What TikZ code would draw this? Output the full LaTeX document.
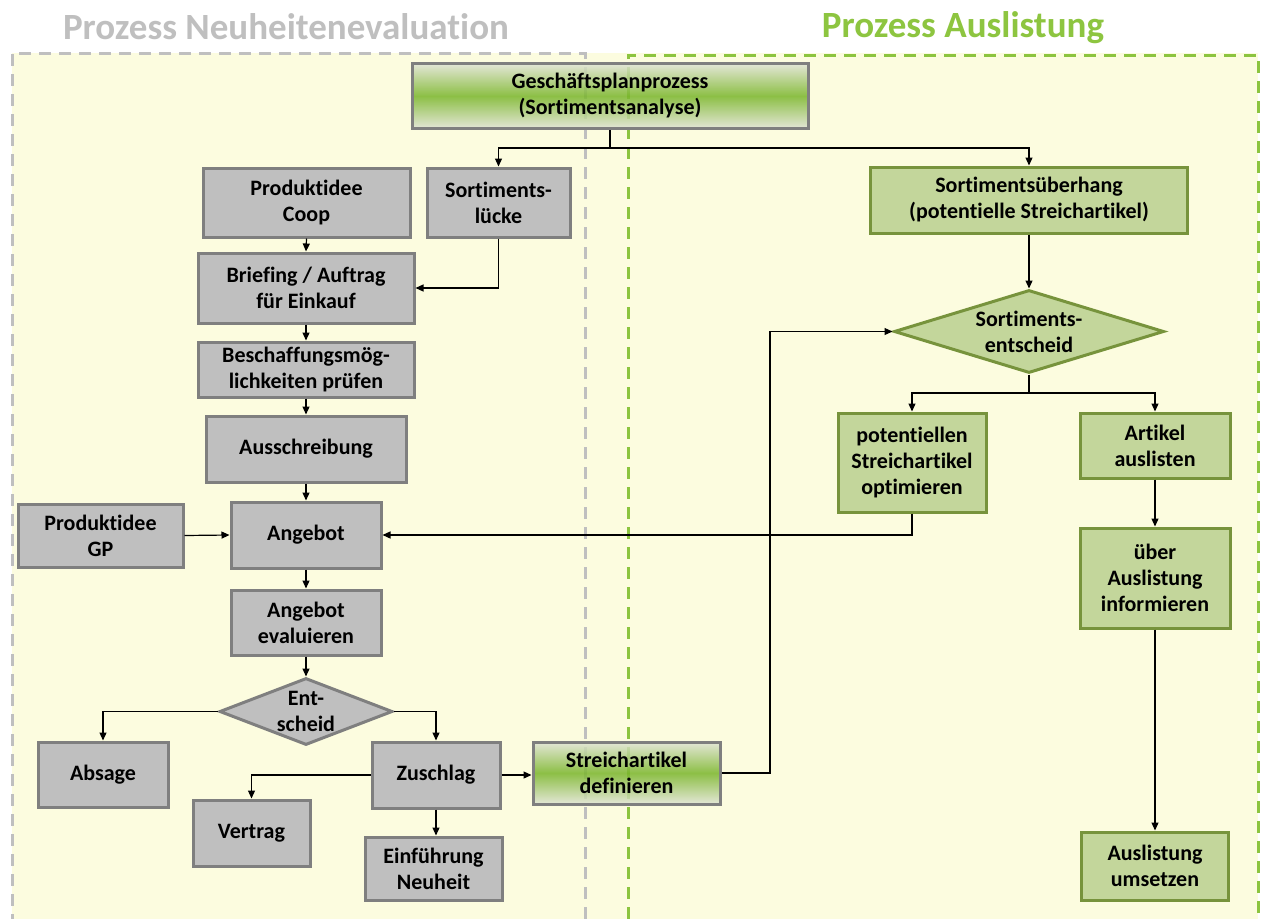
\documentclass[tikz,border=0pt]{standalone}
\usepackage{fontspec}
\setmainfont{Carlito}[Ligatures=NoCommon]
\usetikzlibrary{arrows.meta,shapes.geometric}
\definecolor{bgY}{HTML}{FCFCDF}
\definecolor{grayFill}{HTML}{BFBFBF}
\definecolor{grayLine}{HTML}{7F7F7F}
\definecolor{greenFill}{HTML}{C3D69B}
\definecolor{greenLine}{HTML}{77933C}
\definecolor{gradTop}{HTML}{E0E3D6}
\definecolor{gradMid}{HTML}{79B52B}
\definecolor{titleGray}{HTML}{BFBFBF}
\definecolor{titleGreen}{HTML}{8DC540}
\definecolor{dashGray}{HTML}{BFBFBF}
\definecolor{dashGreen}{HTML}{8CC43F}
\tikzset{
  lbl/.style={font=\fontsize{22}{26}\selectfont\bfseries, align=center, text=black, inner sep=0pt},
  graybox/.style={lbl, rectangle, draw=grayLine, line width=3pt, fill=grayFill},
  greenbox/.style={lbl, rectangle, draw=greenLine, line width=3pt, fill=greenFill},
  gradbox/.style={lbl, rectangle, draw=grayLine, line width=3pt, top color=gradTop, bottom color=gradTop, middle color=gradMid, fill opacity=0.85, text opacity=1, draw opacity=1},
  graydia/.style={lbl, diamond, draw=grayLine, line width=3pt, fill=grayFill},
  greendia/.style={lbl, diamond, draw=greenLine, line width=3pt, fill=greenFill},
  arr/.style={line width=1.2pt, draw=black, -{Triangle[length=8pt,width=7pt]}},
  conn/.style={line width=1.2pt, draw=black},
  dashG/.style={line width=3pt, draw=dashGray, dash pattern=on 12pt off 8pt},
  dashN/.style={line width=3pt, draw=dashGreen, dash pattern=on 12pt off 8pt},
  title/.style={font=\fontsize{37}{44}\selectfont\bfseries, inner sep=0pt}
}
\begin{document}
\begin{tikzpicture}[x=1pt,y=-1pt]
\useasboundingbox (0,0) rectangle (1262,919);
\fill[white] (0,0) rectangle (1262,919);
\fill[bgY] (12,53) rectangle (1258,919);
% titles
\node[title, text=titleGray] (t1) at (286,27) {Prozess Neuheitenevaluation};
\node[title, text=titleGreen] (t2) at (963,28) {Prozess Auslistung};
% dashed process frames
\draw[dashG] (585,919) -- (585,53) -- (12,53) -- (12,919);
\draw[dashN] (628,919) -- (628,55) -- (1258,55) -- (1258,919);
% nodes left
\node[gradbox, minimum width=396pt, minimum height=65pt] (gp) at (610,96) {Geschäftsplanprozess\\(Sortimentsanalyse)};
\node[graybox, minimum width=207pt, minimum height=69pt] (coop) at (306.5,202.5) {Produktidee\\Coop};
\node[graybox, minimum width=143pt, minimum height=69pt] (luecke) at (498.5,202.5) {Sortiments-\\lücke};
\node[graybox, minimum width=216pt, minimum height=70pt] (brief) at (306,288) {Briefing / Auftrag\\für Einkauf};
\node[graybox, minimum width=216pt, minimum height=55pt] (besch) at (306,369.5) {Beschaffungsmög-\\lichkeiten prüfen};
\node[graybox, minimum width=200pt, minimum height=66pt] (aus) at (306,449) {Ausschreibung};
\node[graybox, minimum width=165pt, minimum height=63pt] (gpi) at (100.5,535.5) {Produktidee\\GP};
\node[graybox, minimum width=150pt, minimum height=66pt] (ang) at (306,535) {Angebot};
\node[graybox, minimum width=150pt, minimum height=65pt] (eval) at (306,622.5) {Angebot\\evaluieren};
\node[graydia, minimum width=173pt, minimum height=67pt, aspect=2.58, inner sep=-5pt] (ent) at (306,711.5) {Ent-\\scheid};
\node[graybox, minimum width=130pt, minimum height=65pt] (abs) at (103,774.5) {Absage};
\node[graybox, minimum width=128pt, minimum height=66pt] (zus) at (436,775) {Zuschlag};
\node[graybox, minimum width=117pt, minimum height=66pt] (vert) at (251.5,833) {Vertrag};
\node[graybox, minimum width=137pt, minimum height=63pt] (einf) at (433.5,868.5) {Einführung\\Neuheit};
\node[gradbox, minimum width=187pt, minimum height=62pt] (streich) at (626.5,773) {Streichartikel\\definieren};
% nodes right
\node[greenbox, minimum width=317pt, minimum height=66pt] (ueber) at (1029,200) {Sortimentsüberhang\\(potentielle Streichartikel)};
\node[greendia, minimum width=270pt, minimum height=83pt, aspect=3.25, inner sep=-3pt] (sent) at (1029,331.5) {Sortiments-\\entscheid};
\node[greenbox, minimum width=148pt, minimum height=99pt] (opt) at (912,462.5) {potentiellen\\Streichartikel\\optimieren};
\node[greenbox, minimum width=150pt, minimum height=65pt] (art) at (1155,445.5) {Artikel\\auslisten};
\node[greenbox, minimum width=150pt, minimum height=100pt] (info) at (1155,578) {über\\Auslistung\\informieren};
\node[greenbox, minimum width=147pt, minimum height=68pt] (ums) at (1155,866) {Auslistung\\umsetzen};
% connectors
\coordinate (j1) at (610,148);
\draw[conn] (gp.south) -- (j1);
\draw[arr] (j1) -| (luecke.north);
\draw[arr] (j1) -| (ueber.north);
\draw[arr] (coop.south) -- (brief.north);
\draw[arr] (luecke.south) |- (brief.east);
\draw[arr] (brief.south) -- (besch.north);
\draw[arr] (besch.south) -- (aus.north);
\draw[arr] (aus.south) -- (ang.north);
\draw[arr] (gpi.east) -- (ang.west);
\draw[arr] (opt.south) |- (ang.east);
\draw[arr] (ang.south) -- (eval.north);
\draw[arr] (eval.south) -- (ent.north);
\draw[arr] (ent.west) -| (abs.north);
\draw[arr] (ent.east) -| (zus.north);
\draw[arr] (zus.west) -| (vert.north);
\draw[arr] (zus.south) -- (zus.south |- einf.north);
\draw[arr] (zus.east) -- (zus.east -| streich.west);
\coordinate (k) at (770,0);
\draw[arr] (streich.east) -- (streich.east -| k) |- (sent.west);
\draw[arr] (ueber.south) -- (sent.north);
\coordinate (j2) at (1029,393);
\draw[conn] (sent.south) -- (j2);
\draw[arr] (j2) -| (opt.north);
\draw[arr] (j2) -| (art.north);
\draw[arr] (art.south) -- (info.north);
\draw[arr] (info.south) -- (ums.north);
\end{tikzpicture}
\end{document}
